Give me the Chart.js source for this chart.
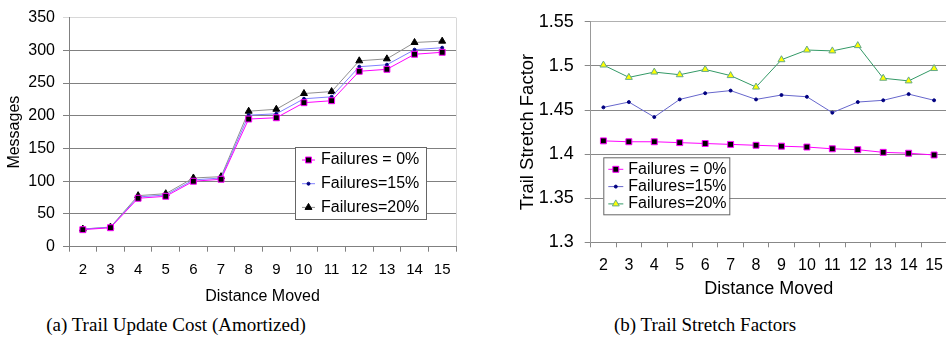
<!DOCTYPE html>
<html>
<head>
<meta charset="utf-8">
<script src="https://cdn.jsdelivr.net/npm/chart.js@4.4.0/dist/chart.umd.min.js"></script>
<style>
  body { margin: 0; width: 946px; height: 344px; overflow: hidden; background: #fff; position: relative; }
  #wrapA { position: absolute; left: 0; top: 0; width: 470px; height: 310px; }
  #wrapB { position: absolute; left: 470px; top: 0; width: 482px; height: 310px; }
  .cap { position: absolute; top: 314px; line-height: 22px; font-family: "Liberation Serif", serif; font-size: 19px;
         white-space: nowrap; transform: translateX(-50%); color: #000; }
</style>
</head>
<body>
<div id="wrapA"><canvas id="chartA" width="470" height="310"></canvas></div>
<div id="wrapB"><canvas id="chartB" width="482" height="310"></canvas></div>
<div class="cap" style="left:176px">(a) Trail Update Cost (Amortized)</div>
<div class="cap" style="left:705px">(b) Trail Stretch Factors</div>
<script>
// distance moved (shared x categories)
const distances = ['2', '3', '4', '5', '6', '7', '8', '9', '10', '11', '12', '13', '14', '15'];
const seriesNames = ['Failures = 0%', 'Failures=15%', 'Failures=20%'];

// (a) trail update cost, messages
const msgFail0 = [26, 29, 74, 77, 100, 103, 195, 197, 220, 223, 268, 271, 294, 297];
const msgFail15 = [27, 29.5, 76, 79, 102, 105, 201, 203, 226, 229, 275, 278, 301, 304];
const msgFail20 = [27, 30, 78, 81, 105, 107, 207, 210, 234, 237, 284, 287, 312, 314];
const msgTicks = [0, 50, 100, 150, 200, 250, 300, 350];

// (b) trail stretch factor
const stretchFail0 = [1.415, 1.414, 1.414, 1.413, 1.412, 1.411, 1.410, 1.409, 1.408, 1.406, 1.405, 1.402, 1.401, 1.399];
const stretchFail15 = [1.453, 1.459, 1.442, 1.462, 1.469, 1.472, 1.462, 1.467, 1.465, 1.447, 1.459, 1.461, 1.468, 1.461];
const stretchFail20 = [1.501, 1.487, 1.493, 1.490, 1.496, 1.489, 1.476, 1.507, 1.518, 1.517, 1.523, 1.486, 1.483, 1.497];
const stretchTicks = [1.3, 1.35, 1.4, 1.45, 1.5, 1.55];

Chart.defaults.font.family = '"Liberation Sans", Arial, sans-serif';
Chart.defaults.color = '#000';
Chart.defaults.animation = false;

function drawMarker(ctx, ds, x, y) {
  const r = ds.pointRadius;
  ctx.fillStyle = ds.pointBackgroundColor;
  ctx.strokeStyle = ds.pointBorderColor;
  ctx.lineWidth = 1;
  ctx.beginPath();
  if (ds.pointStyle === 'rect') {
    const s = r * Math.SQRT1_2;
    ctx.rect(x - s, y - s, 2 * s, 2 * s);
  } else if (ds.pointStyle === 'triangle') {
    ctx.moveTo(x, y - r);
    ctx.lineTo(x + 0.866 * r, y + 0.5 * r);
    ctx.lineTo(x - 0.866 * r, y + 0.5 * r);
    ctx.closePath();
  } else {
    ctx.arc(x, y, r, 0, Math.PI * 2);
  }
  ctx.fill();
  ctx.stroke();
}

// legend box drawn inside the plot
const insideLegend = {
  id: 'insideLegend',
  afterDraw(chart, args, o) {
    const ctx = chart.ctx;
    ctx.save();
    ctx.fillStyle = '#fff';
    ctx.fillRect(o.x, o.y, o.w, o.h);
    ctx.strokeStyle = '#666';
    ctx.lineWidth = 1;
    ctx.strokeRect(o.x + 0.5, o.y + 0.5, o.w, o.h);
    chart.data.datasets.forEach((ds, i) => {
      const cy = o.y + o.firstRow + i * o.rowH;
      ctx.strokeStyle = ds.borderColor;
      ctx.lineWidth = 1;
      ctx.beginPath();
      ctx.moveTo(o.x + o.lineX0, cy);
      ctx.lineTo(o.x + o.lineX1, cy);
      ctx.stroke();
      drawMarker(ctx, ds, o.x + (o.lineX0 + o.lineX1) / 2, cy);
      ctx.fillStyle = '#000';
      ctx.font = o.fontSize + 'px "Liberation Sans", Arial, sans-serif';
      ctx.textBaseline = 'middle';
      ctx.fillText(ds.label, o.x + o.textX, cy);
    });
    ctx.restore();
  }
};

function line(label, data, color, style, radius, fill, border) {
  return {
    label: label, data: data,
    borderColor: color, borderWidth: 1, tension: 0,
    pointStyle: style, pointRadius: radius,
    pointBackgroundColor: fill, pointBorderColor: border, pointBorderWidth: 1
  };
}

// chart (a)
new Chart(document.getElementById('chartA'), {
  type: 'line',
  data: {
    labels: distances,
    datasets: [
      line(seriesNames[0], msgFail0, '#ff00ff', 'rect', 4.2, '#000', '#ff00ff'),
      line(seriesNames[1], msgFail15, '#8080ff', 'circle', 1.5, '#000080', '#000080'),
      line(seriesNames[2], msgFail20, '#909090', 'triangle', 4, '#000', '#000')
    ]
  },
  options: {
    responsive: false,
    layout: { padding: { top: 17, right: 14, left: 0, bottom: 0 } },
    plugins: {
      legend: { display: false },
      tooltip: { enabled: false },
      insideLegend: { x: 295, y: 147, w: 131, h: 72, firstRow: 13, rowH: 23.7, lineX0: 7, lineX1: 20, textX: 26, fontSize: 16 }
    },
    scales: {
      x: {
        offset: true,
        grid: { offset: true, color: c => c.tick ? 'rgba(0,0,0,0)' : '#d8d8d8', tickColor: '#808080', tickLength: 5 },
        border: { color: '#808080' },
        ticks: { font: { size: 15 }, padding: 9, maxRotation: 0 },
        title: { display: true, text: 'Distance Moved', font: { size: 16 }, padding: { top: 0, bottom: 4 } },
        afterFit: s => { s.height = 63.3; }
      },
      y: {
        min: 0, max: 350,
        afterBuildTicks: a => { a.ticks = msgTicks.map(v => ({ value: v })); },
        grid: { color: c => (c.tick && c.tick.value === 350) ? '#d8d8d8' : '#808080', tickColor: c => (c.tick && c.tick.value === 350) ? '#d8d8d8' : '#808080', tickLength: 6 },
        border: { color: '#808080' },
        ticks: { font: { size: 16 }, padding: 8 },
        title: { display: true, text: 'Messages', font: { size: 16 }, padding: { top: 5, bottom: 0 } },
        afterFit: s => { s.width = 69; }
      }
    }
  },
  plugins: [insideLegend]
});

// chart (b)
new Chart(document.getElementById('chartB'), {
  type: 'line',
  data: {
    labels: distances,
    datasets: [
      line(seriesNames[0], stretchFail0, '#ff00ff', 'rect', 4.2, '#000', '#ff00ff'),
      line(seriesNames[1], stretchFail15, '#6666cc', 'circle', 1.5, '#000080', '#000080'),
      line(seriesNames[2], stretchFail20, '#339966', 'triangle', 4, '#ffff00', '#66aa88')
    ]
  },
  options: {
    responsive: false,
    layout: { padding: { top: 12.3, right: 2, left: 0, bottom: 0 } },
    plugins: {
      legend: { display: false },
      tooltip: { enabled: false },
      insideLegend: { x: 133.3, y: 157.3, w: 126, h: 57, firstRow: 12, rowH: 17.3, lineX0: 5, lineX1: 20, textX: 25, fontSize: 16 }
    },
    scales: {
      x: {
        offset: true,
        grid: { offset: true, drawOnChartArea: false, tickColor: '#888', tickLength: 5 },
        border: { color: '#888' },
        ticks: { font: { size: 16 }, padding: 8.5, maxRotation: 0 },
        title: { display: true, text: 'Distance Moved', font: { size: 18 }, padding: { top: 0, bottom: 10 } },
        afterFit: s => { s.height = 67.7; }
      },
      y: {
        min: 1.3, max: 1.55,
        afterBuildTicks: a => { a.ticks = stretchTicks.map(v => ({ value: v })); },
        grid: { color: c => (c.tick && c.tick.value === 1.55) ? '#b0b0b0' : '#888', tickColor: '#888', tickLength: 6 },
        border: { color: '#999' },
        ticks: { font: { size: 18 }, padding: 11, callback: v => String(+v.toFixed(2)) },
        title: { display: true, text: 'Trail Stretch Factor', font: { size: 18.5 }, padding: { top: 47, bottom: 0 } },
        afterFit: s => { s.width = 120.7; }
      }
    }
  },
  plugins: [insideLegend]
});
</script>
</body>
</html>
